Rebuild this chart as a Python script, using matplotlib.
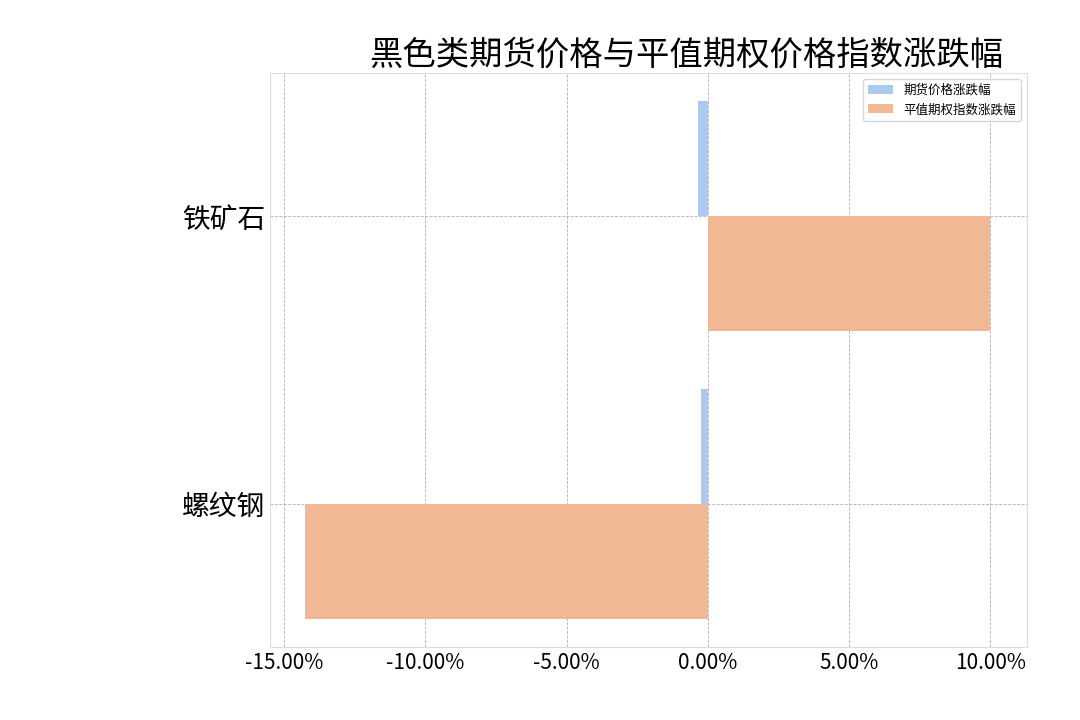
import matplotlib
matplotlib.use("Agg")
import numpy as np
import matplotlib.pyplot as plt
from matplotlib.ticker import FuncFormatter

plt.rcParams['font.family'] = ['Noto Sans CJK SC', 'DejaVu Sans']
plt.rcParams['axes.unicode_minus'] = False

categories = ["螺纹钢", "铁矿石"]
futures_chg = [-0.25, -0.35]
option_chg = [-14.25, 10.0]
series_names = ["期货价格涨跌幅", "平值期权指数涨跌幅"]

fig = plt.figure(figsize=(10.8, 7.2), dpi=100)
ax = fig.add_axes([0.25, 0.101, 0.701, 0.798])

y = np.arange(len(categories))
h = 0.4
ax.barh(y + h / 2, futures_chg, height=h, color="#a9c9ee", label=series_names[0], zorder=2)
ax.barh(y - h / 2, option_chg, height=h, color="#f0b893", label=series_names[1], zorder=2)

ax.set_yticks(y)
ax.set_yticklabels(categories, fontsize=20)
ax.set_ylim(-0.5, 1.5)
ax.set_xlim(-15.5, 11.3)
ax.set_xticks([-15, -10, -5, 0, 5, 10])
ax.xaxis.set_major_formatter(FuncFormatter(lambda v, p: f"{v:.2f}%"))
ax.tick_params(axis='x', labelsize=15, length=0)
ax.tick_params(axis='y', length=0)
ax.grid(True, linestyle='--', linewidth=0.6, color='#b0b0b0', zorder=0)
for s in ax.spines.values():
    s.set_color('#dddddd')

ax.set_title("黑色类期货价格与平值期权价格指数涨跌幅", fontsize=24, x=0.55)
ax.legend(loc="upper right", fontsize=9, frameon=True)

fig.savefig("out.png", dpi=100)
